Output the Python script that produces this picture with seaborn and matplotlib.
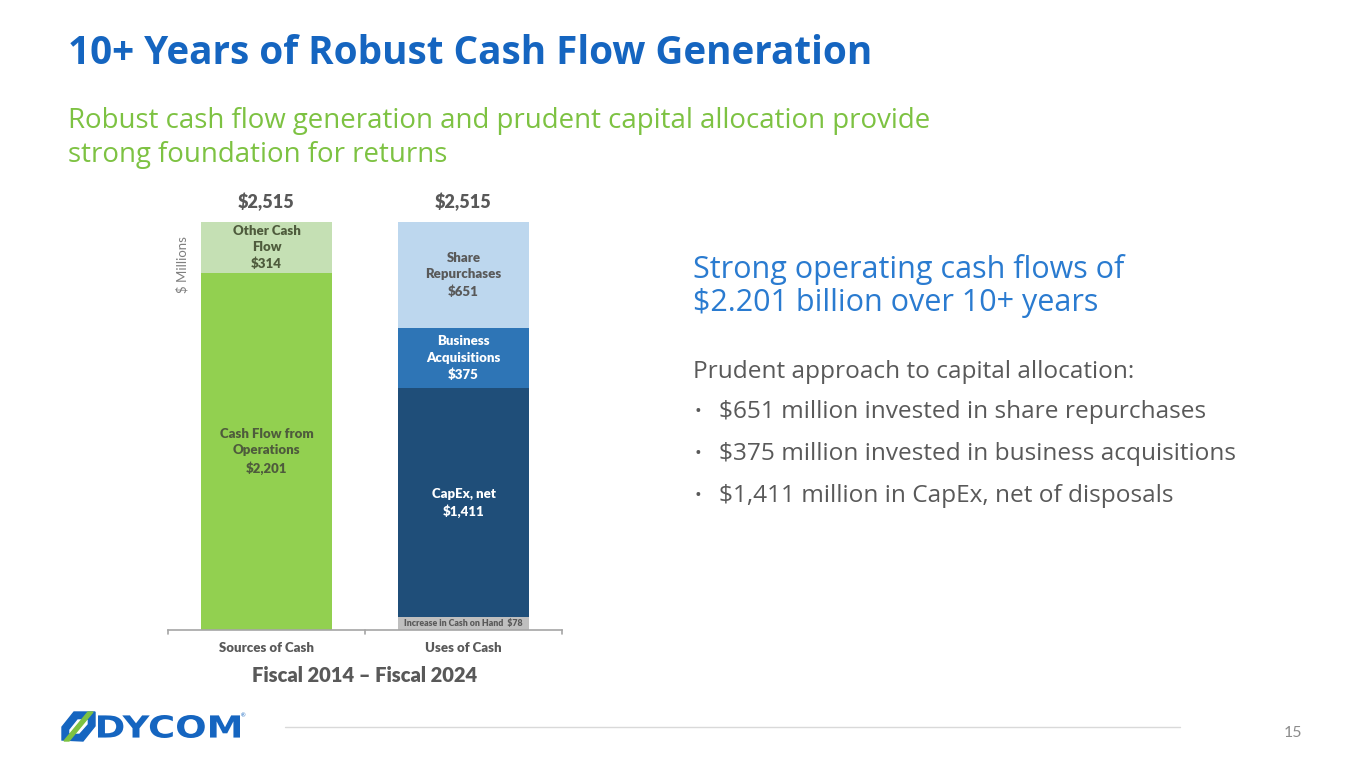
import matplotlib
matplotlib.use("Agg")
import matplotlib.pyplot as plt
import seaborn as sns
import pandas as pd
from matplotlib.patches import Polygon, PathPatch
from matplotlib.textpath import TextPath
from matplotlib.font_manager import FontProperties
from matplotlib.transforms import Affine2D

# ---------------- data ----------------
categories = ["Sources of Cash", "Uses of Cash"]
source_labels = ["Cash Flow from\nOperations", "Other Cash\nFlow"]
source_values = [2201, 314]
use_labels = ["Increase in Cash on Hand", "CapEx, net", "Business\nAcquisitions", "Share\nRepurchases"]
use_values = [78, 1411, 375, 651]
totals = [2515, 2515]

source_colors = ["#92D050", "#C5E0B4"]
use_colors = ["#BFBFBF", "#1F4E79", "#2E75B6", "#BDD7EE"]
source_text = ["#4E5B3C", "#4E5B3C"]
use_text = ["#595959", "white", "white", "#595959"]

rows = []
for cat, labels, vals, cols, tcols in [
    (categories[0], source_labels, source_values, source_colors, source_text),
    (categories[1], use_labels, use_values, use_colors, use_text),
]:
    cum = 0
    for lab, v, c, tc in zip(labels, vals, cols, tcols):
        rows.append(dict(category=cat, segment=lab, value=v, bottom=cum, top=cum + v, color=c, tcolor=tc))
        cum += v
df = pd.DataFrame(rows)

# ---------------- figure ----------------
sns.set_theme(style="white")
plt.rcParams["font.family"] = ["Lato", "DejaVu Sans"]
SLIDE = ["Open Sans", "DejaVu Sans"]

W, H = 1365, 766
fig = plt.figure(figsize=(W / 100, H / 100), dpi=100)
fig.patch.set_facecolor("white")

def fx(x):
    return x / W

def fy(y):
    return 1 - y / H

ax_l, ax_r, ax_t, ax_b = 168, 562, 190, 630
ax = fig.add_axes([fx(ax_l), fy(ax_b), (ax_r - ax_l) / W, (ax_b - ax_t) / H])

# stacked bars drawn as overlapping cumulative bars (largest first)
for _, r in df.sort_values("top", ascending=False).iterrows():
    sns.barplot(data=pd.DataFrame([r]), x="category", y="top", order=categories,
                color=r["color"], saturation=1, width=0.665, linewidth=0, ax=ax)

ax.set_ylim(0, 2515 + 197)
ax.set_xlim(-0.5, 1.5)
ax.set_xlabel("")
ax.set_ylabel("")
ax.set_yticks([])
for s in ["top", "right", "left"]:
    ax.spines[s].set_visible(False)
ax.spines["bottom"].set_color("#A6A6A6")
ax.spines["bottom"].set_linewidth(1.2)
ax.set_xticks([0, 1])
ax.set_xticklabels(categories, fontsize=9.5, fontweight="heavy", color="#595959")
ax.tick_params(axis="x", length=0, pad=9)
for xt in [-0.5, 0.5, 1.5]:
    ax.plot([xt, xt], [0, -25], color="#A6A6A6", lw=1.2, clip_on=False)

# segment labels
xi = {c: i for i, c in enumerate(categories)}
for _, r in df.iterrows():
    x = xi[r["category"]]
    mid = (r["bottom"] + r["top"]) / 2
    if r["segment"].startswith("Increase"):
        ax.text(x, mid, f"{r['segment']}  ${r['value']:,}", ha="center", va="center",
                fontsize=6.3, fontweight="heavy", color=r["tcolor"])
    else:
        ax.text(x, mid, f"{r['segment']}\n${r['value']:,}", ha="center", va="center",
                fontsize=9.5, fontweight="heavy", color=r["tcolor"], linespacing=1.45)

for i, t in enumerate(totals):
    ax.text(i, t + 65, f"${t:,}", ha="center", va="bottom", fontsize=13,
            fontweight="heavy", color="#595959")

ax.text(0.035, 0.83, "$ Millions", rotation=90, transform=ax.transAxes, ha="center",
        va="center", fontsize=9.5, color="#7F7F7F")

# ---------------- slide text ----------------
fig.text(fx(68), fy(54), "10+ Years of Robust Cash Flow Generation", fontsize=27.8,
         fontweight="bold", color="#1565C0", va="center", ha="left", family=SLIDE)
fig.text(fx(68), fy(138), "Robust cash flow generation and prudent capital allocation provide\nstrong foundation for returns",
         fontsize=19.9, color="#7DC242", va="center", ha="left", linespacing=1.25, family=SLIDE)

fig.text(fx(693), fy(286), "Strong operating cash flows of\n$2.201 billion over 10+ years",
         fontsize=22, color="#2A7BD0", va="center", ha="left", linespacing=1.15, family=SLIDE)
fig.text(fx(693), fy(372), "Prudent approach to capital allocation:", fontsize=17.6,
         color="#595959", va="center", ha="left", family=SLIDE)
bullets = ["$651 million invested in share repurchases",
           "$375 million invested in business acquisitions",
           "$1,411 million in CapEx, net of disposals"]
for k, b in enumerate(bullets):
    yy = 412 + 42 * k
    fig.text(fx(695), fy(yy), "•", fontsize=13, color="#595959", va="center", ha="left", family=SLIDE)
    fig.text(fx(719), fy(yy), b, fontsize=17.6, color="#595959", va="center", ha="left", family=SLIDE)

fig.text(fx(365), fy(675), "Fiscal 2014 – Fiscal 2024", fontsize=14.5, fontweight="heavy",
         color="#595959", ha="center", va="center")

# footer
fig.add_artist(plt.Line2D([fx(285), fx(1180)], [fy(727), fy(727)], color="#D9D9D9", lw=1))
fig.text(fx(1293), fy(733), "15", fontsize=11.5, color="#8C8C8C", ha="center", va="center")

# logo (pixel-coordinate overlay)
ov = fig.add_axes([0, 0, 1, 1])
ov.set_xlim(0, W)
ov.set_ylim(H, 0)
ov.axis("off")
ov.patch.set_alpha(0)
ov.add_patch(Polygon([(62, 740), (62, 727), (74, 712), (95, 712), (95, 726), (83, 741)],
                     closed=True, color="#1565C0"))
ov.add_patch(Polygon([(70, 730), (78, 720), (87, 720), (87, 724), (79, 733), (70, 733)],
                     closed=True, color="white"))
ov.add_patch(Polygon([(64, 741), (69, 741), (93, 712), (88, 712)], closed=True, color="#7DC242"))
tp = TextPath((0, 0), "DYCOM", size=30, prop=FontProperties(family="DejaVu Sans", weight="heavy"))
bb = tp.get_extents()
sx = 142 / bb.width
sy = 23 / bb.height
tr = Affine2D().translate(-bb.x0, -bb.y0).scale(sx, -sy).translate(98, 738)
ov.add_patch(PathPatch(tr.transform_path(tp), color="#1565C0", lw=0))
ov.text(241, 716, "®", fontsize=4, color="#1565C0", ha="left", va="center")

fig.savefig("out.png", dpi=100, facecolor="white")
